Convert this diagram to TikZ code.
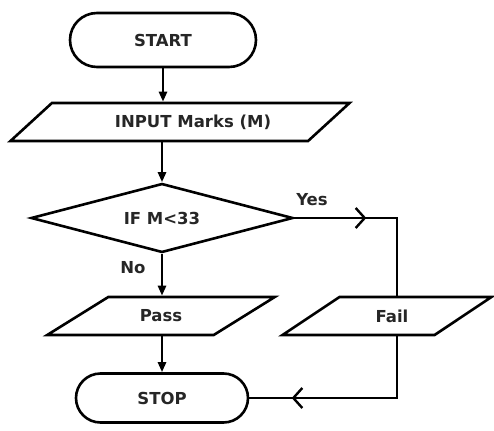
\documentclass[tikz,border=0pt]{standalone}
\usepackage{fontspec}
\setmainfont{DejaVu Sans}
\usetikzlibrary{shapes.misc,shapes.geometric,arrows.meta,decorations.markings}
\begin{document}
\begin{tikzpicture}[x=1pt,y=-1pt,
  every node/.style={font=\bfseries\fontsize{16.5}{19}\selectfont, text=black!85},
  box/.style={draw=black, line width=2.6pt, inner sep=0pt},
  term/.style={box, rounded rectangle},
  io/.style={box, trapezium, trapezium left angle=26.5, trapezium right angle=153.5,
             trapezium stretches=true, minimum height=38pt},
  decision/.style={box, diamond, aspect=4, minimum width=262pt, minimum height=69pt},
  conn/.style={line width=2.5pt},
  flow/.style={conn, -{Triangle[length=10pt,width=8pt]}},
  chev/.style={conn, postaction={decorate}, decoration={markings,
     mark=at position #1 with {\arrow{Straight Barb[length=9pt,width=20pt,line width=2.4pt]}}}}
]
\useasboundingbox (0,0) rectangle (494,430);

\node[term, minimum width=186pt, minimum height=54pt] (start) at (163,40) {START};
\node[io, minimum width=340pt] (input) at (180,122) {\hspace{26pt}INPUT Marks (M)};
\node[decision] (dec) at (162,218) {IF M<33};
\node[io, minimum width=228pt] (pass) at (161,316) {Pass};
\node[io, minimum width=210pt] (fail) at (387,316) {\hspace{10pt}Fail};
\node[term, minimum width=172pt, minimum height=49pt] (stop) at (162,398) {STOP};

\node (yes) at (312,200) {Yes};
\node (no) at (133,268) {No};

\draw[flow] (start.south) -- (start.south |- input.north);
\draw[flow] (dec.north |- input.south) -- (dec.north);
\draw[flow] (dec.south) -- (dec.south |- pass.north);
\draw[flow] (stop.north |- pass.south) -- (stop.north);
\draw[chev=72pt] (dec.east) -| ([xshift=10pt]fail.north);
\draw[chev=167pt] ([xshift=10pt]fail.south) |- (stop.east);
\end{tikzpicture}
\end{document}
